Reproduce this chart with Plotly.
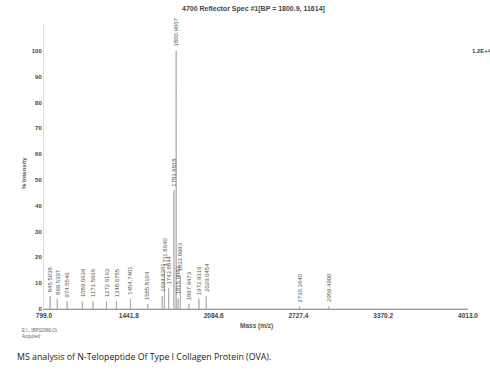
import plotly.graph_objects as go

# Peak list (m/z) and relative intensities (%)
peak_mz = [845.5038, 899.5397, 974.5546, 1089.5639, 1171.5666, 1272.6163,
           1348.6755, 1454.7401, 1585.8104, 1694.8381, 1711.8640, 1743.8844,
           1783.8818, 1800.9067, 1815.9082, 1832.8993, 1897.9473, 1972.9316,
           2029.0454, 2736.3440, 2959.4900]
peak_int = [5, 4, 3, 3, 3, 3, 3, 4, 2, 5, 15, 8, 46, 100, 4, 13, 2, 4, 5, 1, 1]
peak_labels = [f"{m:.4f}" for m in peak_mz]

x_ticks = [799.0, 1441.8, 2084.6, 2727.4, 3370.2, 4013.0]
x_tick_text = ["799.0", "1441.8", "2084.6", "2727.4", "3370.2", "4013.0"]
y_ticks = [0, 10, 20, 30, 40, 50, 60, 70, 80, 90, 100]

# Build stick spectrum from peak data
xs, ys = [799.0], [0]
half = 1.5
for m, i in zip(peak_mz, peak_int):
    xs += [m - half, m, m + half]
    ys += [0, i, 0]
xs.append(4013.0)
ys.append(0)

fig = go.Figure()
fig.add_trace(go.Scatter(x=xs, y=ys, mode="lines",
                         line=dict(color="#a8a8a8", width=0.8),
                         hoverinfo="skip", showlegend=False))

for m, i, lab in zip(peak_mz, peak_int, peak_labels):
    fig.add_annotation(x=m, y=i, text=lab, textangle=-90, showarrow=False,
                       xanchor="center", yanchor="bottom", yshift=2,
                       font=dict(size=6, color="#555555", family="Liberation Sans"))

fig.add_annotation(xref="paper", yref="paper", x=0.495, y=1.0, yshift=16,
                   text="<b>4700 Reflector Spec #1[BP = 1800.9, 11614]</b>",
                   showarrow=False, font=dict(size=7, color="#444444", family="Liberation Sans"),
                   xanchor="center", yanchor="middle")
fig.add_annotation(xref="paper", yref="y", x=1.005, y=100, text="<b>1.2E+4</b>",
                   showarrow=False, xanchor="left", yanchor="middle",
                   font=dict(size=6, color="#444444", family="Liberation Sans"))
fig.add_annotation(xref="paper", yref="paper", x=0.502, y=0, yshift=-11,
                   text="<b>Mass (m/z)</b>", showarrow=False, xanchor="center",
                   yanchor="top", font=dict(size=6.5, color="#555555", family="Liberation Sans"))
fig.add_annotation(xref="paper", yref="paper", x=0, xshift=-20, y=0.5, yshift=-6,
                   text="<b>% Intensity</b>", textangle=-90, showarrow=False,
                   xanchor="center", yanchor="middle",
                   font=dict(size=6, color="#555555", family="Liberation Sans"))
fig.add_annotation(xref="paper", yref="paper", x=0, xshift=-24, y=0, yshift=-17,
                   text="E:\\...\\BP02086.Ot<br>Acquired:", showarrow=False,
                   xanchor="left", yanchor="top", align="left",
                   font=dict(size=4.5, color="#666666", family="Liberation Sans"))
fig.add_annotation(xref="paper", yref="paper", x=0, xshift=-29, y=0, yshift=-40,
                   text="MS analysis of N-Telopeptide Of Type I Collagen Protein (OVA).",
                   showarrow=False, xanchor="left", yanchor="top",
                   font=dict(size=8.8, color="#222222", family="Open Sans"))

fig.update_layout(
    width=490, height=370,
    margin=dict(l=44, r=12, t=25, b=61),
    paper_bgcolor="white", plot_bgcolor="white",
    font=dict(family="Liberation Sans", color="#333333"),
    xaxis=dict(range=[799.0, 4013.0], tickvals=x_ticks, ticktext=[f"<b>{t}</b>" for t in x_tick_text],
               showgrid=False, zeroline=False, showline=True, linecolor="#999999",
               linewidth=1, ticks="", tickfont=dict(size=6.5, color="#444444")),
    yaxis=dict(range=[0, 110], tickvals=y_ticks, ticktext=[f"<b>{t}</b>" for t in y_ticks],
               showgrid=False, zeroline=False, showline=True, linecolor="#dddddd",
               linewidth=1, ticks="", tickfont=dict(size=6, color="#444444")),
)

fig.write_html("out.html", config={"displayModeBar": False},
               post_script="document.body.style.margin='0';")
